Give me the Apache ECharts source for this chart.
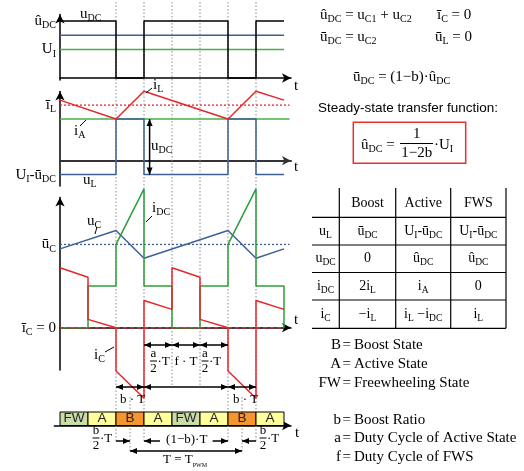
<!DOCTYPE html>
<html><head><meta charset="utf-8">
<script src="https://cdn.jsdelivr.net/npm/echarts@6/dist/echarts.min.js"></script>
<style>html,body{margin:0;padding:0;background:#fff}#c{width:524px;height:471px}</style>
</head><body><div id="c"></div>
<script>
// ---------------- DATA ----------------
const STATES = ['FW','A','B','A','FW','A','B','A'];
const STATE_EDGES = [0,1,2,3,4,5,6,7,8];
const STATE_COLORS = {FW:'#c9dcaa', A:'#ffff9c', B:'#f5952e'};

// panel 1 : u_DC
const uDC_t = [0,2,2,3,3,6,6,7,7,8];
const uDC_v = [1,1,0,0,1,1,0,0,1,1];
const UDC_HAT = 1.0, UDC_BAR = 0.75, U_I = 0.5;
const P1_TICKS = [1.0, 0.75, 0.5];
const P1_TICK_LABELS = ['û_{DC}','ū_{DC}','U_{I}'];

// panel 2 : i_L, u_L
const iL_t = [0,2,3,6,7,8];
const iL_v = [1.09,0.75,1.25,0.75,1.25,1.09];
const IL_MEAN = 1.0;
const uL_t = [0,2,2,3,3,6,6,7,7,8];
const uL_v = [-0.25,-0.25,0.75,0.75,-0.25,-0.25,0.75,0.75,-0.25,-0.25];
const P2_TICKS = [1.0, 0.75, -0.25];
const P2_TICK_LABELS = ['ī_{L}','ū_{DC}','U_{I}-ū_{DC}'];

// panel 3 : u_C, i_DC, i_C
const uC_t = [0,2,3,6,7,8];
const uC_v = [1.42,1.75,1.25,1.75,1.25,1.42];
const UC_MEAN = 1.5;
const iDC_t = [0,1,1,2,2,3,3,4,4,5,5,6,6,7,7,8,8];
const iDC_v = [0,0,0.75,0.75,1.5,2.5,0.75,0.75,0,0,0.75,0.75,1.5,2.5,0.75,0.75,0];
const iC_t = [0,1,1,2,2,3,3,4,4,5,5,6,6,7,7,8];
const iC_v = [1.08,0.91,0.15,0,-0.78,-1.27,0.49,0.33,1.08,0.91,0.15,0,-0.78,-1.27,0.49,0.33];
const IC_MEAN = 0;
const P3_TICKS = [1.5, 0];
const P3_TICK_LABELS = ['ū_{C}','ī_{C} = 0'];

// table & legend
const TABLE_COLS = ['Boost','Active','FWS'];
const TABLE_ROWS = ['u_{L}','u_{DC}','i_{DC}','i_{C}'];
const TABLE_CELLS = [
  ['ū_{DC}','U_{I}-ū_{DC}','U_{I}-ū_{DC}'],
  ['0','û_{DC}','û_{DC}'],
  ['2i_{L}','i_{A}','0'],
  ['−i_{L}','i_{L} −i_{DC}','i_{L}']
];
const LEGEND_KEYS = ['B','A','FW','b','a','f'];
const LEGEND_VALS = ['Boost State','Active State','Freewheeling State','Boost Ratio','Duty Cycle of Active State','Duty Cycle of FWS'];

// ---------------- helpers ----------------
const SERIF = 'Liberation Serif', SANS = 'Liberation Sans';
function tex(s){
  let out='', last=0, m; const re=/_\{([^}]*)\}/g;
  while((m=re.exec(s))){ if(m.index>last) out+='{m|'+s.slice(last,m.index)+'}'; out+='{s|'+m[1]+'}'; last=re.lastIndex; }
  if(last<s.length) out+='{m|'+s.slice(last)+'}';
  return out;
}
function richDef(size, sub){
  return {
    m:{fontFamily:SERIF, fontSize:size, lineHeight:size+4, color:'#000', fill:'#000'},
    s:{fontFamily:SERIF, fontSize:sub, lineHeight:sub, verticalAlign:'bottom', color:'#000', fill:'#000'}
  };
}
function pairs(ts, vs){ return ts.map((t,i)=>[t, vs[i]]); }
function lineSeries(gi, data, color, width, type, z){
  return {type:'line', xAxisIndex:gi, yAxisIndex:gi, data, symbol:'none', clip:false, silent:true,
    animation:false, z:z||2, lineStyle:{color, width, type:type||'solid'}};
}
function xAx(gi, min, color, width){
  return {gridIndex:gi, type:'value', min, max:8.25,
    axisLine:{show:true, onZero:true, symbol:['none','arrow'], symbolSize:[7,9], lineStyle:{color, width}},
    axisTick:{show:false}, axisLabel:{show:false}, splitLine:{show:false}};
}
function yAx(gi, min, max, ticks, labels){
  return {gridIndex:gi, type:'value', min, max,
    axisLine:{show:true, onZero:false, symbol:['none','arrow'], symbolSize:[7,9], lineStyle:{color:'#000', width:1.5}},
    axisTick:{show:false}, splitLine:{show:false},
    axisLabel:{show:true, margin:4, hideOverlap:false, showMinLabel:true, showMaxLabel:true,
      customValues:ticks, rich:richDef(15,10),
      formatter:(v)=>{ const i=ticks.findIndex(x=>Math.abs(x-v)<1e-6); return i<0?'':tex(labels[i]); }}};
}

const RED='#e8262a', GREEN='#2f9e3a', LGREEN='#45b04a', BLUE='#3f5f94';

const option = {
  animation:false,
  backgroundColor:'#fff',
  grid:[
    {left:60, top:14.5, width:231, height:65.5},
    {left:60, top:91.5, width:231, height:94.5},
    {left:60, top:197.5, width:231, height:172.5},
    {left:54.4, top:412, width:236.6, height:13.5}
  ],
  xAxis:[ xAx(0,0,'#000',1.5), xAx(1,0,'#333',2), xAx(2,0,'#000',1.5), xAx(3,-0.2,'#000',1.5) ],
  yAxis:[
    yAx(0,-0.035,1.114,P1_TICKS,P1_TICK_LABELS),
    yAx(1,-0.455,1.245,P2_TICKS,P2_TICK_LABELS),
    yAx(2,-0.762,2.346,P3_TICKS,P3_TICK_LABELS),
    {gridIndex:3, type:'value', min:0, max:1, show:false}
  ],
  series:[
    // panel 1
    lineSeries(0, [[0,UDC_BAR],[8,UDC_BAR]], BLUE, 1.5),
    lineSeries(0, [[0,U_I],[8,U_I]], LGREEN, 1.5),
    lineSeries(0, pairs(uDC_t,uDC_v), '#000', 1.5, 'solid', 3),
    // panel 2
    lineSeries(1, [[0,IL_MEAN],[8.2,IL_MEAN]], RED, 1.3, [2,2]),
    lineSeries(1, [[0,UDC_BAR],[8.2,UDC_BAR]], LGREEN, 1.5),
    lineSeries(1, pairs(uL_t,uL_v), BLUE, 1.5, 'solid', 3),
    lineSeries(1, pairs(iL_t,iL_v), RED, 1.5, 'solid', 4),
    // panel 3
    lineSeries(2, [[0,UC_MEAN],[8.2,UC_MEAN]], BLUE, 1.3, [2,2]),
    lineSeries(2, pairs(uC_t,uC_v), BLUE, 1.5, 'solid', 3),
    lineSeries(2, pairs(iDC_t,iDC_v), GREEN, 1.5, 'solid', 3),
    lineSeries(2, pairs(iC_t,iC_v), RED, 1.5, 'solid', 4),
    lineSeries(2, [[0,IC_MEAN],[8,IC_MEAN]], RED, 1.5, [4,3], 5),
    // state bar
    {type:'custom', xAxisIndex:3, yAxisIndex:3, silent:true, z:3,
      data: STATES.map((s,i)=>[STATE_EDGES[i], STATE_EDGES[i+1], i]),
      encode:{x:[0,1]},
      renderItem:(params, api)=>{
        const a = api.coord([api.value(0), 1]), b = api.coord([api.value(1), 0]);
        const st = STATES[api.value(2)];
        return {type:'rect', shape:{x:a[0], y:a[1], width:b[0]-a[0], height:b[1]-a[1]},
          style:{fill:STATE_COLORS[st], stroke:'#000', lineWidth:1},
          textContent:{style:{text:st, fontFamily:SANS, fontSize:13.5, fill:'#222'}},
          textConfig:{position:'inside'}};
      }}
  ]
};

const chart = echarts.init(document.getElementById('c'), null, {renderer:'canvas'});
chart.setOption(option);

// ---------------- annotations ----------------
const px = t => chart.convertToPixel({xAxisIndex:0}, t);
const py = (g, v) => chart.convertToPixel({yAxisIndex:g}, v);
const G = [];
function txt(x, y, s, o){
  o = o || {};
  const size=o.size||15, sub=o.sub||10, align=o.align||'left';
  G.push({type:'text', x, y, z:100, silent:true,
    style:{text:tex(s), rich:richDef(size,sub), align, verticalAlign:'middle', textAlign:align, textVerticalAlign:'middle'}});
}
function plain(x, y, s, o){
  o = o || {};
  G.push({type:'text', x, y, z:100, silent:true,
    style:{text:s, fontFamily:o.family||SERIF, fontSize:o.size||15, fill:'#000',
      align:o.align||'left', verticalAlign:'middle', textAlign:o.align||'left', textVerticalAlign:'middle'}});
}
function seg(x1,y1,x2,y2,o){
  o=o||{};
  G.push({type:'line', z:o.z||100, silent:true, shape:{x1,y1,x2,y2},
    style:{stroke:o.color||'#000', lineWidth:o.w||1, lineDash:o.dash||null}});
}
function head(x,y,a){
  const hl=7, hw=3;
  G.push({type:'polygon', z:101, silent:true, shape:{points:[[x,y],
    [x-hl*Math.cos(a)+hw*Math.sin(a), y-hl*Math.sin(a)-hw*Math.cos(a)],
    [x-hl*Math.cos(a)-hw*Math.sin(a), y-hl*Math.sin(a)+hw*Math.cos(a)]]}, style:{fill:'#000'}});
}
function arrow(x1,y1,x2,y2,both){
  seg(x1,y1,x2,y2,{w:1.5});
  const a=Math.atan2(y2-y1,x2-x1);
  head(x2,y2,a); if(both) head(x1,y1,a+Math.PI);
}
const AS = {size:13, sub:7};
function frac(cx, yTop, num, den, o){
  o=o||{};
  const bw=o.bw||7;
  txt(cx, yTop, num, Object.assign({align:'center'}, AS));
  seg(cx-bw/2, yTop+7, cx+bw/2, yTop+7, {w:1});
  txt(cx, yTop+14.5, den, Object.assign({align:'center'}, AS));
}

// dotted time markers
const DOTTED = [[2,2,442],[3,2,442],[4,2,387],[5,2,387],[6,2,442],[7,2,442],[2.5,397,453],[6.5,397,453]];
DOTTED.forEach(d=>seg(px(d[0]), d[1], px(d[0]), d[2], {color:'#8a8a8a', w:1, dash:[1.5,2], z:1}));

// panel labels
txt(80, 14, 'u_{DC}');
txt(153, 85, 'i_{L}'); seg(146,93,152,88);
txt(74, 131, 'i_{A}'); seg(80,126,86,120);
txt(151, 146, 'u_{DC}');
arrow(px(3.2), py(1,0.75), px(3.2), py(1,-0.25), true);
txt(83, 180, 'u_{L}');
txt(87, 221, 'u_{C}'); seg(95,234,97,227);
txt(152, 208, 'i_{DC}'); seg(146,222,152,216);
txt(94, 355, 'i_{C}'); seg(105,352,114,347);
plain(294, 86, 't'); plain(294, 167, 't'); plain(294, 320, 't'); plain(295, 433, 't');

// timing arrows
const yA = 345, yB = 387, yC = 441, yD = 451;
arrow(px(3),yA,px(4),yA,true); arrow(px(4),yA,px(5),yA,true); arrow(px(5),yA,px(6),yA,true);
arrow(px(2),yB,px(3),yB,true); arrow(px(3),yB,px(6),yB,true); arrow(px(6),yB,px(7),yB,true);
arrow(px(2),yC,px(2.5),yC,false); arrow(px(3.57),yC,px(3),yC,false);
arrow(px(5.45),yC,px(6),yC,false); arrow(px(7),yC,px(6.5),yC,false);
arrow(px(2.5),yD,px(6.5),yD,true);

frac(153.5, 354, 'a', '2'); txt(157.5, 362, '·T', AS);
frac(205, 354, 'a', '2'); txt(209, 362, '·T', AS);
txt(186, 362, 'f · T', Object.assign({align:'center'}, AS));
txt(120, 400, 'b · T', AS); txt(233, 400, 'b · T', AS);
frac(96, 431, 'b', '2'); txt(100, 439, '·T', AS);
frac(263, 431, 'b', '2'); txt(267, 439, '·T', AS);
txt(186.7, 440, '(1−b)·T', Object.assign({align:'center'}, AS));
txt(185, 460, 'T = T_{PWM}', {align:'center', size:13, sub:6});

// right formulas
txt(320, 15, 'û_{DC} = u_{C1} + u_{C2}');
txt(437, 15, 'ī_{C} = 0');
txt(320, 37, 'ū_{DC} = u_{C2}');
txt(435, 37, 'ū_{L} = 0');
txt(353, 77, 'ū_{DC} = (1−b)·û_{DC}');
plain(408, 108, 'Steady-state transfer function:', {family:SANS, size:13.5, align:'center'});
G.push({type:'rect', z:100, silent:true, shape:{x:353.3, y:122.3, width:112.4, height:41}, style:{fill:null, stroke:'#e83030', lineWidth:1.5}});
txt(361, 145, 'û_{DC} =');
txt(416.7, 134, '1', {align:'center'});
seg(400, 143.5, 433, 143.5, {w:1});
txt(416.7, 153, '1−2b', {align:'center'});
txt(434, 145, '·U_{I}');

// table
const TH = [217.3, 245, 272.5, 300, 328.3];
const TV = [339.3, 395.7, 450.7, 506];
TH.forEach(y=>seg(312, y, 506, y, {w:1.2}));
TV.forEach(x=>seg(x, 188, x, 328.3, {w:1.2}));
const colC = [325.5, 367.5, 423.2, 478.3];
TABLE_COLS.forEach((c,i)=>txt(colC[i+1], 203, c, {size:14, align:'center'}));
TABLE_ROWS.forEach((r,j)=>{
  const y = (TH[j]+TH[j+1])/2;
  txt(colC[0], y, r, {size:14, sub:9.5, align:'center'});
  TABLE_CELLS[j].forEach((c,i)=>txt(colC[i+1], y, c, {size:14, sub:9.5, align:'center'}));
});

// legend
const LEG_Y = [345, 364, 383, 420, 438.5, 457];
LEGEND_KEYS.forEach((k,i)=>{
  plain(341, LEG_Y[i], k, {align:'right'});
  plain(342.5, LEG_Y[i], '=\u2009' + LEGEND_VALS[i]);
});

chart.setOption({graphic:{elements:G}});
</script></body></html>
